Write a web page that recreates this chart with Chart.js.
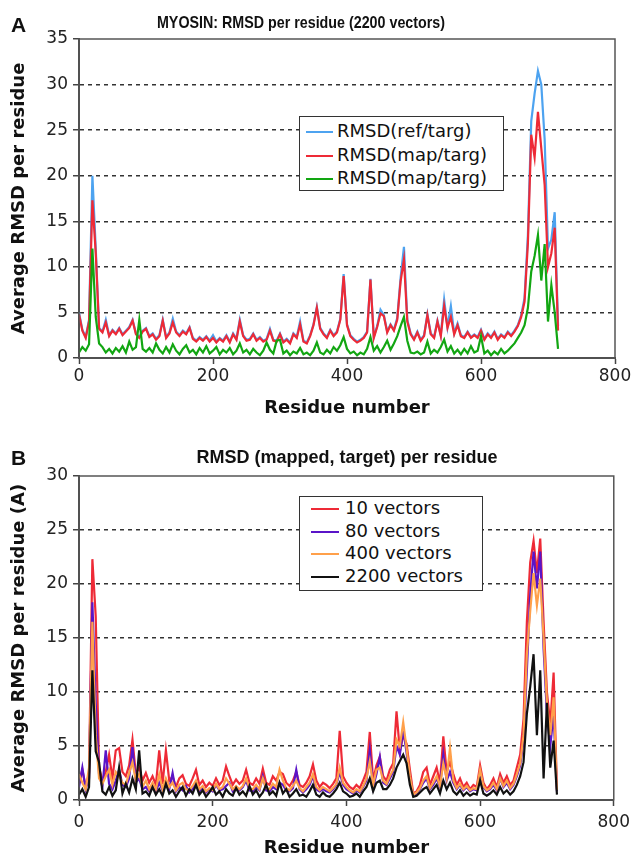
<!DOCTYPE html>
<html>
<head>
<meta charset="utf-8">
<script src="https://cdn.jsdelivr.net/npm/chart.js@4.4.1/dist/chart.umd.min.js"></script>
<style>
body { margin: 0; background: #fff; }
#page { position: relative; width: 636px; height: 860px; overflow: hidden; }
canvas { position: absolute; left: 0; }
.tag { position: absolute; left: 11px; font: bold 21px "Liberation Sans", Arial, sans-serif; line-height: 21px; color: #111; }
.ttl { position: absolute; font: bold 17px "Liberation Sans", Arial, sans-serif; line-height: 18px; color: #111; white-space: nowrap; }
.leg { position: absolute; background: #fff; border: 1.5px solid #333; box-sizing: border-box; font: 18px "DejaVu Sans", sans-serif; color: #111; z-index: 2; }
.leg div { white-space: nowrap; }
.leg span { display: inline-block; height: 2px; vertical-align: middle; }
</style>
</head>
<body>
<div id="page">
  <canvas id="chartA" width="636" height="420" style="top:0"></canvas>
  <canvas id="chartB" width="636" height="440" style="top:420px"></canvas>
  <div class="tag" style="top:14px">A</div>
  <div class="tag" style="top:447px">B</div>
  <div class="ttl" id="titleA" style="top:14px;left:301px;transform:translateX(-50%) scaleX(0.84)">MYOSIN: RMSD per residue (2200 vectors)</div>
  <div class="ttl" id="titleB" style="top:448px;left:347px;font-size:18px;transform:translateX(-50%)">RMSD (mapped, target) per residue</div>
  <div class="leg" id="legA" style="left:299px;top:116px;width:205px;height:75px;padding-top:2px;line-height:23.5px"></div>
  <div class="leg" id="legB" style="left:299px;top:496px;width:184px;height:95px;padding-top:0px;line-height:22.7px"></div>
</div>
<script>
// residue numbers sampled every 5 residues (0..715)
const residues = Array.from({length: 144}, (_, i) => i * 5);

// panel A: MYOSIN, 2200 vectors
const refTarg = [
  5.0, 3.1, 2.3, 4.2, 20.0, 12.0, 3.3, 2.9, 4.2, 2.5,
  3.1, 2.7, 3.3, 2.6, 3.0, 3.4, 4.2, 2.7, 2.3, 3.0,
  3.3, 2.4, 2.7, 2.1, 2.5, 4.2, 2.3, 2.8, 4.3, 2.9,
  2.5, 3.0, 2.7, 3.4, 2.2, 1.9, 2.3, 2.0, 2.4, 1.9,
  2.5, 1.8, 2.2, 1.9, 2.5, 1.8, 2.7, 2.1, 4.2, 2.5,
  2.0, 2.1, 2.7, 2.0, 2.3, 1.9, 2.1, 3.2, 2.0, 1.9,
  2.7, 1.8, 2.1, 1.7, 2.7, 2.3, 4.0, 1.9, 1.7, 2.5,
  3.7, 5.6, 3.3, 2.7, 2.3, 3.1, 2.5, 2.9, 4.3, 9.2,
  3.7, 2.5, 2.1, 1.8, 2.0, 2.3, 2.9, 8.7, 2.3, 3.5,
  5.3, 4.7, 2.9, 3.7, 3.1, 4.4, 8.8, 12.2, 4.2, 2.7,
  2.1, 2.9, 2.0, 2.5, 4.8, 2.7, 2.3, 4.1, 2.5, 6.4,
  3.4, 5.7, 2.7, 3.8, 2.5, 2.3, 2.9, 2.3, 2.6, 2.3,
  3.1, 2.1, 2.7, 2.3, 2.9, 2.1, 2.6, 2.3, 2.9, 2.5,
  3.0, 3.6, 4.7, 6.6, 13.5, 26.0, 29.0, 31.5, 30.0, 24.0,
  12.0, 13.0, 16.0, 3.5
];
const mapTarg = [
  4.8, 3.0, 2.2, 4.0, 17.3, 11.5, 3.2, 2.8, 3.9, 2.4,
  3.0, 2.6, 3.2, 2.5, 2.9, 3.3, 4.1, 2.6, 2.2, 2.9,
  3.2, 2.3, 2.6, 2.0, 2.4, 4.1, 2.2, 2.7, 3.9, 2.8,
  2.4, 2.9, 2.6, 3.3, 2.1, 1.8, 2.2, 1.9, 2.3, 1.8,
  2.2, 1.7, 2.1, 1.8, 2.4, 1.7, 2.6, 2.0, 4.0, 2.4,
  1.9, 2.0, 2.6, 1.9, 2.2, 1.8, 2.0, 3.0, 1.9, 1.8,
  2.6, 1.7, 2.0, 1.6, 2.6, 2.2, 3.7, 1.8, 1.6, 2.4,
  3.6, 5.5, 3.2, 2.6, 2.2, 3.0, 2.4, 2.8, 4.2, 9.0,
  3.6, 2.4, 2.0, 1.7, 1.9, 2.2, 2.8, 8.6, 2.2, 3.4,
  4.9, 4.6, 2.8, 3.6, 3.0, 4.2, 8.4, 10.8, 4.0, 2.6,
  2.0, 2.8, 1.9, 2.4, 4.7, 2.6, 2.2, 4.0, 2.4, 5.7,
  3.3, 4.5, 2.6, 3.6, 2.4, 2.2, 2.8, 2.2, 2.5, 2.2,
  3.0, 2.0, 2.6, 2.2, 2.8, 2.0, 2.5, 2.2, 2.8, 2.4,
  2.9, 3.5, 4.5, 6.2, 12.6, 24.5, 22.0, 27.0, 23.0, 19.0,
  10.0, 11.5, 14.3, 3.0
];
const mapTargGreen = [
  0.6, 1.2, 0.8, 1.5, 12.0, 4.5, 1.6, 1.2, 0.6, 1.0,
  0.5, 1.1, 0.7, 1.3, 0.6, 1.8, 0.9, 1.2, 4.2, 1.0,
  0.7, 1.1, 0.6, 1.6, 0.9, 0.5, 1.2, 0.6, 1.5, 0.8,
  0.4, 1.0, 1.4, 0.6, 0.9, 0.4, 1.1, 0.6, 1.3, 0.5,
  0.8, 1.2, 0.4, 0.9, 0.6, 1.1, 0.4, 0.8, 1.6, 0.6,
  0.9, 0.4, 1.0, 0.6, 0.3, 0.8, 1.7, 0.9, 0.5, 1.9,
  2.0, 0.5, 0.8, 0.3, 0.7, 0.5, 1.1, 0.4, 0.6, 0.3,
  0.8, 1.7, 0.6, 0.4, 0.9, 0.5, 1.2, 0.8, 1.4, 2.3,
  1.0, 0.5, 0.7, 0.3, 0.6, 0.4, 1.0, 2.3, 0.8, 1.3,
  0.6, 1.2, 1.9, 0.9, 1.6, 2.4, 3.5, 4.5, 1.9, 0.6,
  0.5, 0.7, 0.4, 0.6, 1.8, 0.5, 0.9, 0.6, 1.2, 2.0,
  0.7, 1.3, 0.5, 0.9, 0.4, 1.0, 0.5, 1.3, 0.6, 0.8,
  2.4, 0.5, 0.8, 0.3, 0.7, 0.4, 1.0, 0.5, 0.8, 1.2,
  1.6, 2.2, 2.8, 3.6, 5.5, 9.5, 11.2, 13.5, 8.5, 12.5,
  4.0, 8.0, 5.0, 1.0
];

// panel B: mapped vs target for several vector counts
const vec10 = [
  1.6, 2.8, 1.2, 2.5, 22.3, 17.0, 3.0, 1.8, 2.6, 4.2,
  2.0, 4.6, 4.8, 2.6, 2.2, 3.2, 5.6, 2.4, 3.0, 1.8,
  2.5, 1.6, 2.2, 1.4, 4.6, 1.5, 4.6, 1.8, 2.2, 1.2,
  2.0, 2.3, 1.5, 1.3, 2.0, 2.8, 1.4, 1.8, 1.2, 1.6,
  1.3, 2.0, 1.4, 1.8, 3.1, 2.2, 1.4, 1.9, 1.5, 1.8,
  2.8, 1.6, 1.4, 2.0, 1.5, 2.9, 1.6, 1.4, 2.2, 1.8,
  2.6, 2.4, 1.6, 1.3, 1.8, 2.6, 1.4, 1.2, 1.6, 2.2,
  3.3, 1.8, 1.2, 1.6, 1.4, 1.1, 1.5, 2.0, 6.4, 2.2,
  1.6, 1.2, 1.0, 1.4, 1.1, 1.8, 2.6, 6.3, 1.8, 3.2,
  4.0, 2.2, 1.8, 2.8, 3.4, 8.2, 4.5, 6.0, 5.2, 2.8,
  0.6, 0.8, 1.4, 2.6, 3.0, 1.4, 2.2, 3.0, 1.6, 5.9,
  2.6, 3.5, 2.4, 1.4, 2.0, 1.2, 1.6, 1.0, 1.4, 1.2,
  3.2, 1.6, 1.0, 1.4, 2.0, 1.2, 2.4, 1.6, 2.2, 1.4,
  1.8, 3.0, 4.2, 7.5, 16.5, 22.0, 24.0, 21.0, 24.2, 16.5,
  10.0, 7.0, 11.8, 1.0
];
const vec80 = [
  1.2, 3.0, 1.0, 2.0, 18.3, 9.0, 2.4, 1.2, 4.6, 1.5,
  1.0, 1.8, 2.8, 1.4, 1.2, 2.0, 4.9, 1.6, 2.0, 1.0,
  1.2, 0.8, 1.4, 0.8, 1.6, 0.9, 1.8, 1.0, 2.5, 0.8,
  1.2, 0.9, 1.3, 0.7, 1.0, 1.6, 0.8, 1.2, 0.7, 1.0,
  0.8, 1.4, 0.9, 1.0, 1.3, 1.6, 0.8, 1.1, 0.9, 1.2,
  1.8, 0.9, 0.8, 1.2, 0.9, 2.2, 0.9, 0.8, 1.2, 1.0,
  1.6, 1.4, 0.9, 0.8, 1.1, 2.8, 1.0, 0.7, 1.0, 1.4,
  2.2, 1.0, 0.8, 1.0, 0.8, 0.7, 1.0, 1.4, 2.6, 1.4,
  1.0, 0.8, 0.6, 0.9, 0.7, 1.2, 1.8, 4.6, 1.2, 2.4,
  4.0, 1.6, 1.4, 2.0, 2.6, 5.0, 4.2, 6.5, 4.4, 2.0,
  0.5, 0.6, 1.0, 1.6, 2.0, 1.0, 1.4, 2.0, 1.2, 4.2,
  1.8, 2.6, 1.6, 1.0, 1.4, 0.9, 1.2, 0.8, 1.0, 0.9,
  2.6, 1.2, 0.8, 1.0, 1.4, 0.9, 2.0, 1.2, 1.6, 1.0,
  1.4, 2.2, 3.2, 5.5, 12.0, 19.0, 23.0, 19.6, 23.0, 14.0,
  8.0, 5.0, 8.0, 0.8
];
const vec400 = [
  2.4, 1.6, 1.0, 3.0, 16.5, 6.0, 2.0, 1.5, 2.2, 2.8,
  1.4, 2.6, 2.2, 1.6, 1.4, 2.5, 3.5, 1.8, 2.4, 1.2,
  1.8, 1.0, 1.6, 1.0, 2.4, 1.0, 2.0, 1.2, 1.6, 0.9,
  1.4, 1.6, 1.0, 0.9, 1.3, 1.8, 1.0, 1.3, 0.8, 1.1,
  0.9, 1.5, 1.0, 1.2, 2.0, 1.5, 1.0, 1.3, 1.0, 1.3,
  2.0, 1.1, 1.0, 1.4, 1.0, 2.0, 1.1, 1.0, 1.5, 1.2,
  2.8, 1.8, 1.1, 0.9, 1.3, 1.8, 1.1, 0.8, 1.2, 1.6,
  2.4, 1.2, 0.9, 1.2, 1.0, 0.8, 1.1, 1.5, 3.0, 1.6,
  1.2, 0.9, 0.7, 1.0, 0.8, 1.3, 2.0, 3.6, 1.4, 2.8,
  3.0, 1.8, 1.5, 2.2, 2.8, 5.6, 5.0, 7.2, 4.8, 2.2,
  0.5, 0.7, 1.1, 1.8, 2.2, 1.1, 1.6, 2.2, 1.3, 3.4,
  2.0, 4.8, 1.8, 1.1, 1.5, 1.0, 1.3, 0.9, 1.1, 1.0,
  2.8, 1.3, 0.9, 1.1, 1.6, 1.0, 2.0, 1.3, 1.8, 1.1,
  1.5, 2.4, 3.4, 6.0, 13.5, 17.5, 21.0, 18.0, 20.5, 15.0,
  9.0, 6.0, 9.5, 0.9
];
const vec2200 = [
  0.5, 1.0, 0.3, 1.2, 12.0, 4.5, 3.5, 0.8, 0.5, 1.2,
  0.4, 0.9, 3.0, 0.6, 1.5, 0.7, 2.0, 1.0, 4.6, 0.6,
  0.8, 0.4, 1.2, 0.5, 1.0, 0.4, 1.5, 0.6, 0.9, 0.3,
  0.8, 1.2, 0.4, 1.0, 0.6, 1.4, 0.5, 0.9, 0.3, 0.7,
  1.2, 0.5, 0.8, 0.3, 1.0, 0.6, 0.4, 1.1, 0.5, 0.8,
  0.4, 1.3, 0.5, 0.9, 0.3, 0.7, 1.4, 0.5, 0.8, 0.4,
  1.6, 0.6, 1.0, 0.3, 0.6, 1.0, 0.4, 0.5, 0.3, 0.8,
  1.4, 0.5, 0.3, 0.7, 0.4, 0.3, 0.6, 1.0, 1.6, 0.8,
  0.6, 0.3, 0.4, 0.6, 0.3, 0.8, 1.2, 2.0, 0.8, 1.6,
  1.8, 1.0, 1.0, 1.4, 2.0, 3.0, 3.6, 4.2, 3.4, 1.4,
  0.3, 0.4, 0.7, 1.0, 1.2, 0.6, 1.0, 1.4, 0.6, 1.8,
  1.0, 1.6, 0.8, 0.5, 0.9, 0.4, 0.7, 0.4, 0.6, 0.5,
  1.8, 0.6, 0.4, 0.6, 0.9, 0.5, 1.2, 0.6, 0.9, 0.5,
  0.8, 1.4, 2.2, 3.5, 8.0, 10.5, 13.5, 6.0, 12.0, 2.0,
  9.0, 3.0, 5.5, 0.5
];

const seriesA = [
  { label: 'RMSD(ref/targ)', values: refTarg, color: '#4da3f0', order: 3 },
  { label: 'RMSD(map/targ)', values: mapTarg, color: '#ee2a36', order: 2 },
  { label: 'RMSD(map/targ)', values: mapTargGreen, color: '#12a612', order: 1 }
];
const seriesB = [
  { label: '10 vectors', values: vec10, color: '#ee2a36', order: 4 },
  { label: '80 vectors', values: vec80, color: '#5a14c8', order: 3 },
  { label: '400 vectors', values: vec400, color: '#ffa04a', order: 2 },
  { label: '2200 vectors', values: vec2200, color: '#111111', order: 1 }
];

const tickFont = { family: 'DejaVu Sans', size: 17 };
const titleFont = { family: 'DejaVu Sans', size: 18, weight: 'bold' };

// box around the plot area
const frame = {
  id: 'frame',
  afterDatasetsDraw(chart) {
    const a = chart.chartArea, c = chart.ctx;
    c.save();
    c.strokeStyle = '#555';
    c.lineWidth = 1.5;
    c.strokeRect(a.left, a.top, a.right - a.left, a.bottom - a.top);
    c.restore();
  }
};

function makePanel(id, series, yMax, top, xHeight, xTickPad, yTitle) {
  return new Chart(document.getElementById(id), {
    type: 'line',
    data: {
      datasets: series.map(s => ({
        label: s.label,
        data: residues.map((r, i) => ({ x: r, y: s.values[i] })),
        borderColor: s.color,
        borderWidth: 2.2,
        pointRadius: 0,
        tension: 0,
        order: s.order
      }))
    },
    options: {
      responsive: false,
      animation: false,
      layout: { padding: { top: top, right: 21, left: 0, bottom: 0 } },
      plugins: { legend: { display: false }, tooltip: { enabled: false } },
      scales: {
        x: {
          type: 'linear', min: 0, max: 800,
          afterFit: s => { s.height = xHeight; },
          ticks: { stepSize: 200, padding: xTickPad, font: tickFont, color: '#222', maxRotation: 0 },
          grid: { drawOnChartArea: false, tickLength: 6, tickColor: '#444', tickWidth: 1.5 },
          border: { color: '#444', width: 2 },
          title: { display: true, text: 'Residue number', font: titleFont, color: '#111', padding: { top: 0, bottom: 1 } }
        },
        y: {
          min: 0, max: yMax,
          afterFit: s => { s.width = 79; },
          ticks: { stepSize: 5, padding: 5, font: tickFont, color: '#222' },
          grid: {
            color: ctx => (ctx.tick.value === 0 || ctx.tick.value === yMax) ? 'rgba(0,0,0,0)' : '#333',
            lineWidth: 1.5, tickLength: 6, tickColor: '#444', tickWidth: 1.5
          },
          border: { color: '#444', width: 2, dash: [4, 4] },
          title: { display: true, text: yTitle, font: titleFont, color: '#111', padding: { top: 9, bottom: 0 } }
        }
      }
    },
    plugins: [frame]
  });
}

function fillLegend(el, chart, padLeft, sample, gap) {
  chart.data.datasets.forEach(ds => {
    const row = document.createElement('div');
    row.style.paddingLeft = padLeft + 'px';
    const line = document.createElement('span');
    line.style.width = sample + 'px';
    line.style.background = ds.borderColor;
    line.style.marginRight = gap + 'px';
    row.appendChild(line);
    row.appendChild(document.createTextNode(ds.label));
    el.appendChild(row);
  });
}

const chartA = makePanel('chartA', seriesA, 35, 39, 62, 2, 'Average RMSD per residue');
const chartB = makePanel('chartB', seriesB, 30, 56, 60, 6, 'Average RMSD per residue (A)');
fillLegend(document.getElementById('legA'), chartA, 6, 27, 4);
fillLegend(document.getElementById('legB'), chartB, 11, 28, 6);
</script>
</body>
</html>
